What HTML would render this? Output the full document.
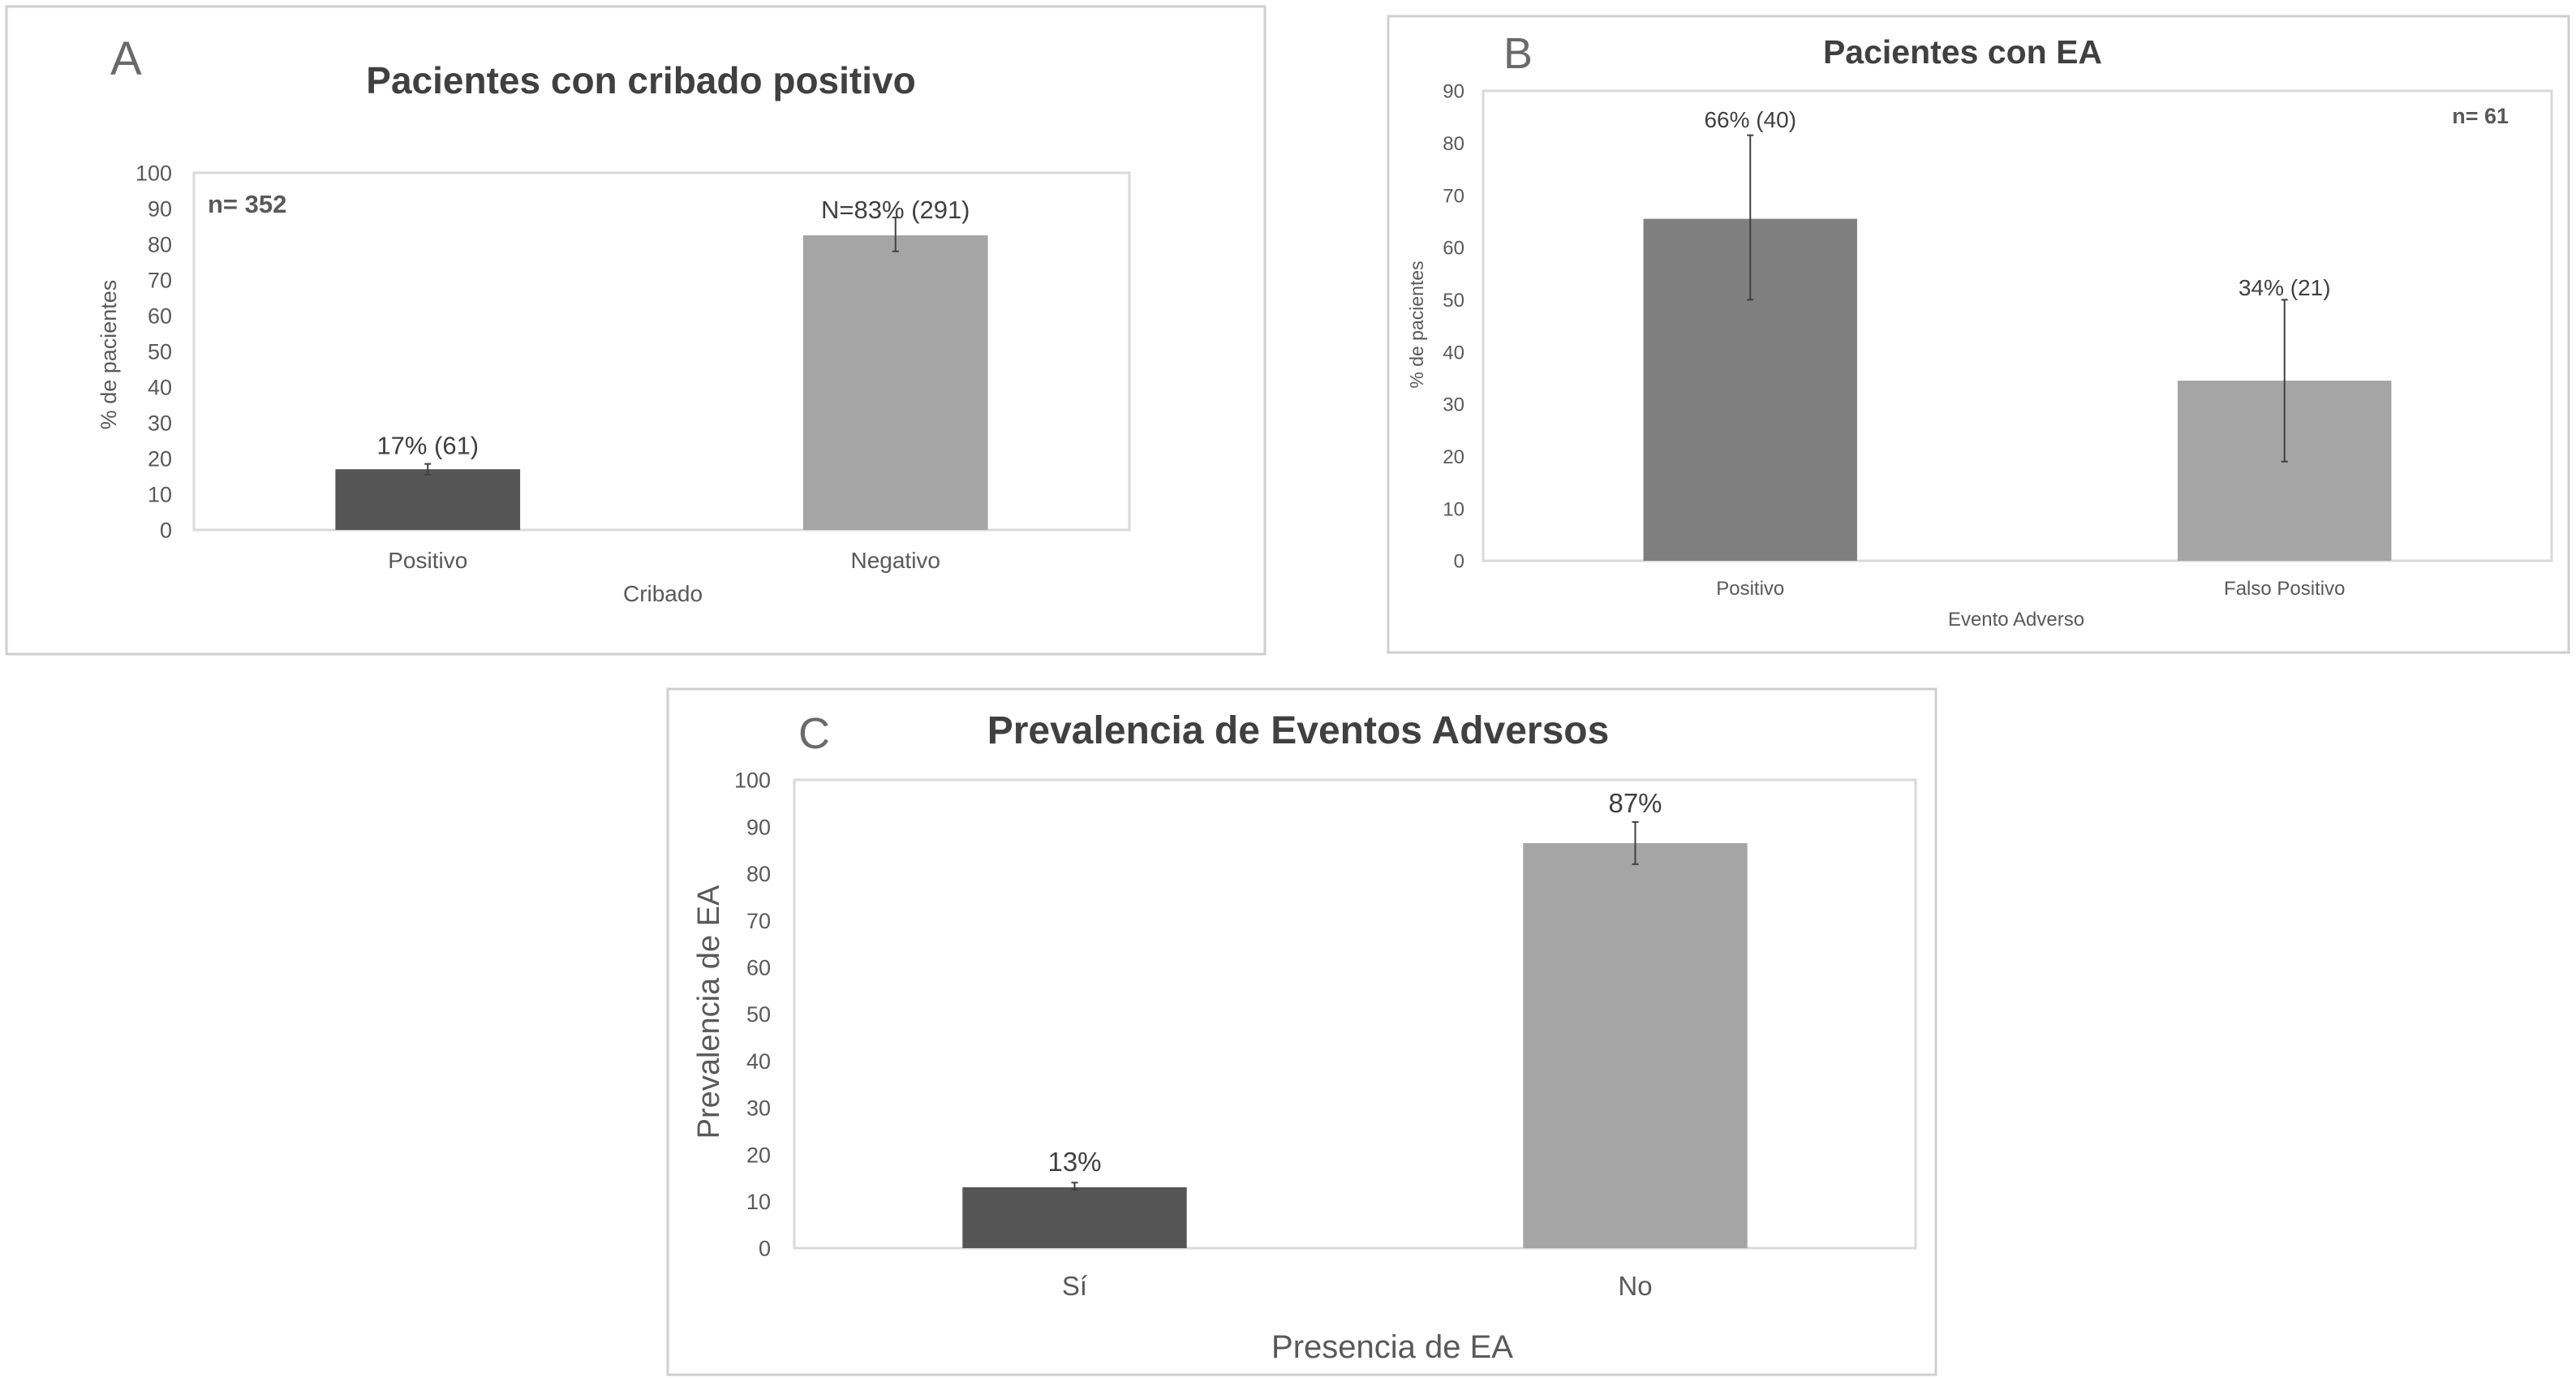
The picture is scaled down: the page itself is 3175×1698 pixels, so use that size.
<!DOCTYPE html>
<html><head><meta charset="utf-8">
<style>
html,body{margin:0;padding:0;background:#fff;}
svg{display:block;font-family:"Liberation Sans",sans-serif;}
</style></head>
<body>
<svg id="fig" width="3175" height="1698" viewBox="0 0 3175 1698" xmlns="http://www.w3.org/2000/svg"></svg>
<script>
// Panel A data
const aCategories = ["Positivo", "Negativo"];
const aValues = [17, 82.5];
const aErrLow = [15.5, 78];
const aErrHigh = [18.5, 87.5];
const aLabels = ["17% (61)", "N=83% (291)"];
const aTicks = [0,10,20,30,40,50,60,70,80,90,100];
// Panel B data
const bCategories = ["Positivo", "Falso Positivo"];
const bValues = [65.5, 34.5];
const bErrLow = [50, 19];
const bErrHigh = [81.5, 50];
const bLabels = ["66% (40)", "34% (21)"];
const bTicks = [0,10,20,30,40,50,60,70,80,90];
// Panel C data
const cCategories = ["Sí", "No"];
const cValues = [13, 86.5];
const cErrLow = [12.5, 82];
const cErrHigh = [14, 91];
const cLabels = ["13%", "87%"];
const cTicks = [0,10,20,30,40,50,60,70,80,90,100];

const NS = "http://www.w3.org/2000/svg";
const svg = document.getElementById("fig");
function mk(tag, attrs, parent, text) {
  const e = document.createElementNS(NS, tag);
  for (const k in attrs) e.setAttribute(k, attrs[k]);
  if (text !== undefined) e.textContent = text;
  (parent || svg).appendChild(e);
  return e;
}

function panel(cfg) {
  const g = mk("g", {});
  
  
  const fr = mk("rect", {x: cfg.box[0], y: cfg.box[1], width: cfg.box[2]-cfg.box[0], height: cfg.box[3]-cfg.box[1], fill: "#fff", stroke: "#cfcfcf", "stroke-width": 3}, g);
  
  
  const [L, T, R, B] = cfg.plot;
  const ymax = cfg.ticks[cfg.ticks.length-1];
  const y = v => B - (v / ymax) * (B - T);
  const n = cfg.cats.length;
  const bw = (R - L) / n;
  const x = i => L + bw * (i + 0.5);
  const pr = mk("rect", {x: L, y: T, width: R-L, height: B-T, fill: "none", stroke: "#d9d9d9", "stroke-width": 3}, g);
  
  
  cfg.ticks.forEach(t => {
    const tl = mk("text", {x: cfg.tickX, y: y(t) + cfg.tickFs*0.36, "text-anchor": "end", "font-size": cfg.tickFs, fill: "#595959"}, g, String(t));
    
    
  });
  cfg.vals.forEach((v, i) => {
    const w = bw * cfg.barFrac;
    const bar = mk("rect", {x: x(i) - w/2, y: y(v), width: w, height: B - y(v), fill: cfg.colors[i]}, g);
    
    
    const eb = mk("path", {d: `M${x(i)} ${y(cfg.lo[i])}V${y(cfg.hi[i])}M${x(i)-4} ${y(cfg.lo[i])}h8M${x(i)-4} ${y(cfg.hi[i])}h8`, stroke: "#404040", "stroke-width": 2, fill: "none"}, g);
    
    
    const lbl = mk("text", {x: x(i) + cfg.labelDx[i], y: cfg.labelY(i, y), "text-anchor": "middle", "font-size": cfg.labelFs, fill: "#404040"}, g, cfg.labels[i]);
    
    
    const cl = mk("text", {x: x(i), y: cfg.catY, "text-anchor": "middle", "font-size": cfg.catFs, fill: "#595959"}, g, cfg.cats[i]);
    
    
  });
  const xt = mk("text", {x: cfg.xTitle[0], y: cfg.xTitle[1], "text-anchor": "middle", "font-size": cfg.xTitleFs, fill: "#595959"}, g, cfg.xTitleText);
  
  
  const yt = mk("text", {x: 0, y: 0, transform: `translate(${cfg.yTitle[0]},${cfg.yTitle[1]}) rotate(-90)`, "text-anchor": "middle", "font-size": cfg.yTitleFs, fill: "#595959"}, g, cfg.yTitleText);
  
  
  const ti = mk("text", {x: cfg.title[0], y: cfg.title[1], "text-anchor": "middle", "font-size": cfg.titleFs, "font-weight": "bold", fill: "#404040"}, g, cfg.titleText);
  
  
  const pl = mk("text", {x: cfg.letter[0], y: cfg.letter[1], "font-size": cfg.letterFs, fill: "#6a6a6a"}, g, cfg.letterText);
  
  
  if (cfg.nText) {
    const nn = mk("text", {x: cfg.n[0], y: cfg.n[1], "text-anchor": cfg.n[2], "font-size": cfg.nFs, "font-weight": "bold", fill: "#595959"}, g, cfg.nText);
    
    
  }
}

panel({id: "panel-a", box: [8, 8, 1559, 806], plot: [239, 213, 1392, 653],
  ticks: aTicks, cats: aCategories, vals: aValues, lo: aErrLow, hi: aErrHigh, labels: aLabels,
  colors: ["#555555", "#a5a5a5"], barFrac: 0.395, tickX: 212, tickFs: 27,
  labelFs: 31, labelDx: [0, 0], labelY: (i, y) => i === 0 ? y(aErrHigh[0]) - 12 : 269,
  catY: 700, catFs: 28, xTitle: [817, 741], xTitleFs: 28, xTitleText: "Cribado",
  yTitle: [143, 437], yTitleFs: 27, yTitleText: "% de pacientes",
  title: [790, 115], titleFs: 46, titleText: "Pacientes con cribado positivo",
  letter: [136, 92], letterFs: 58, letterText: "A",
  n: [256, 262, "start"], nFs: 31, nText: "n= 352"});

panel({id: "panel-b", box: [1711, 20, 3166, 804], plot: [1828, 112, 3145, 691],
  ticks: bTicks, cats: bCategories, vals: bValues, lo: bErrLow, hi: bErrHigh, labels: bLabels,
  colors: ["#7f7f7f", "#a5a5a5"], barFrac: 0.4, tickX: 1805, tickFs: 24,
  labelFs: 28, labelDx: [0, 0], labelY: (i, y) => i === 0 ? 157 : 364,
  catY: 733, catFs: 24, xTitle: [2485, 771], xTitleFs: 24, xTitleText: "Evento Adverso",
  yTitle: [1754, 400], yTitleFs: 23, yTitleText: "% de pacientes",
  title: [2419, 78], titleFs: 41, titleText: "Pacientes con EA",
  letter: [1853, 84], letterFs: 54, letterText: "B",
  n: [3092, 152, "end"], nFs: 27, nText: "n= 61"});

panel({id: "panel-c", box: [823, 849, 2386, 1694], plot: [979, 961, 2361, 1538],
  ticks: cTicks, cats: cCategories, vals: cValues, lo: cErrLow, hi: cErrHigh, labels: cLabels,
  colors: ["#555555", "#a5a5a5"], barFrac: 0.4, tickX: 950, tickFs: 27,
  labelFs: 33, labelDx: [0, 0], labelY: (i, y) => i === 0 ? 1443 : 1001,
  catY: 1596, catFs: 33, xTitle: [1716, 1673], xTitleFs: 40, xTitleText: "Presencia de EA",
  yTitle: [886, 1247], yTitleFs: 38, yTitleText: "Prevalencia de EA",
  title: [1600, 916], titleFs: 48, titleText: "Prevalencia de Eventos Adversos",
  letter: [984, 922], letterFs: 54, letterText: "C",
  n: [0, 0, "start"], nFs: 1, nText: ""});
</script>
</body></html>
